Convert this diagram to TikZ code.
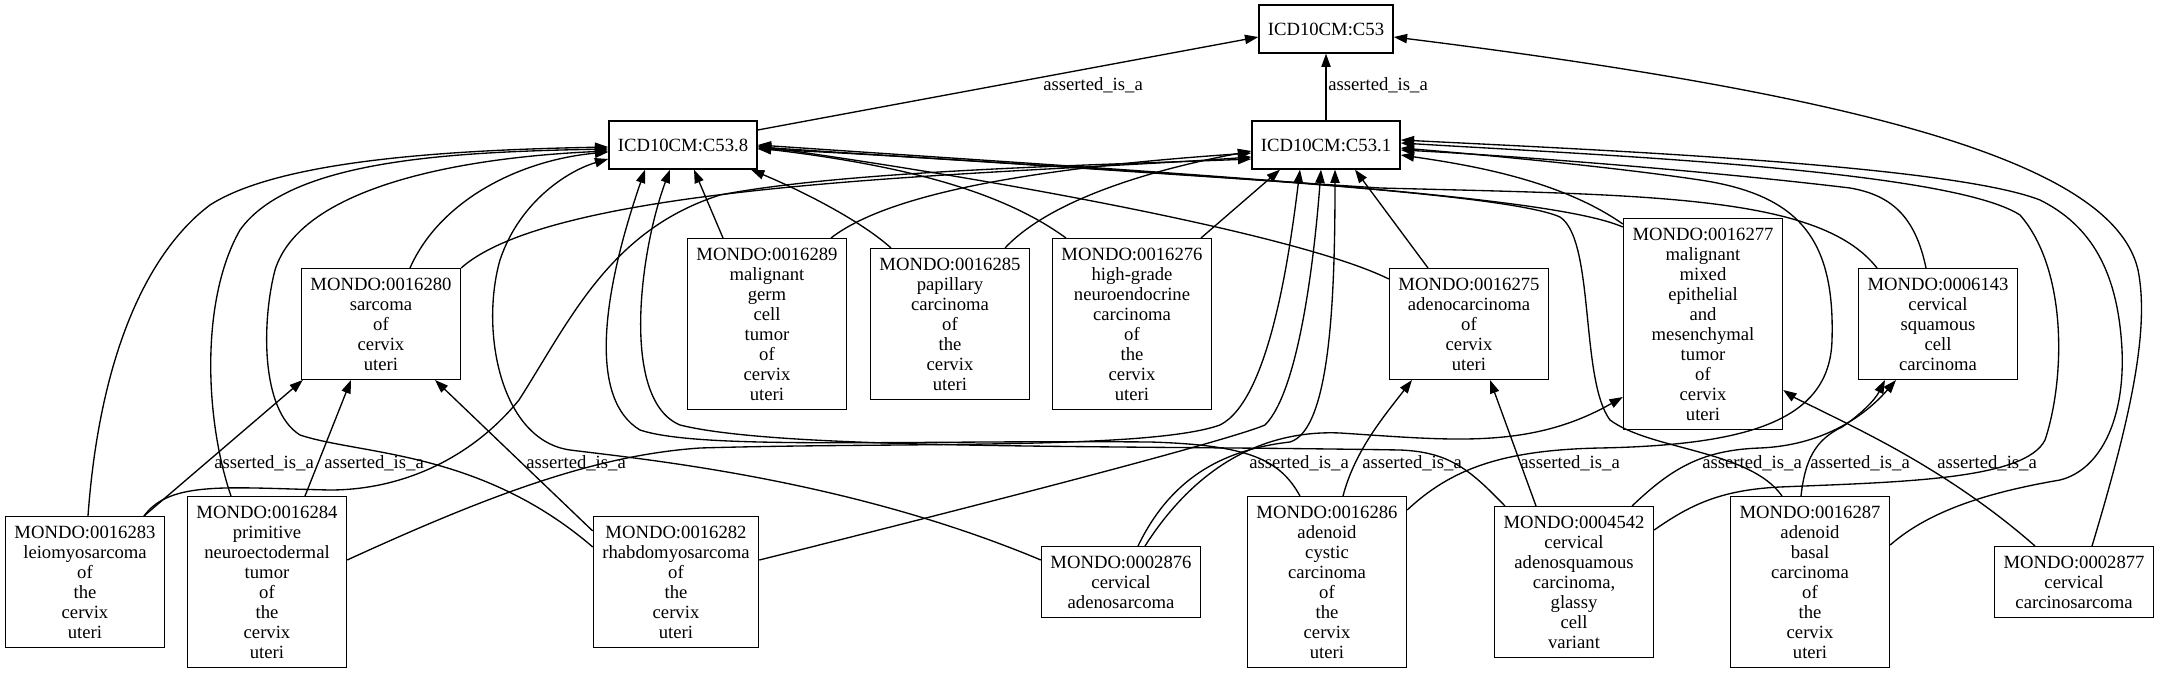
\documentclass[tikz,border=0pt]{standalone}
\usepackage{fontspec}
\setmainfont{Liberation Serif}
\usetikzlibrary{arrows.meta,calc}

\begin{document}
\begin{tikzpicture}[x=0.75pt, y=-0.75pt,
        font=\fontsize{14pt}{15pt}\selectfont,
        box/.style={draw, line width=1pt, align=center, inner xsep=6.75pt, inner ysep=2pt, minimum height=36pt},
        nlines/.style={minimum height=#1*15pt+8pt},
        rel/.style={line width=1pt, -{Triangle[length=10pt,width=7pt]}},
        lbl/.style={anchor=west, inner sep=0pt}]
    \useasboundingbox (0,0) rectangle (2159,673);

    \node[box] (c53) at (1326,29) {ICD10CM:C53};
    \node[box] (c538) at (683,145) {ICD10CM:C53.8};
    \node[box] (c531) at (1326,145) {ICD10CM:C53.1};

    \node[box, nlines=5] (m280) at (381,324) {MONDO:0016280\\sarcoma\\of\\cervix\\uteri};
    \node[box, nlines=8] (m289) at (767,324) {MONDO:0016289\\malignant\\germ\\cell\\tumor\\of\\cervix\\uteri};
    \node[box, nlines=7] (m285) at (950,324) {MONDO:0016285\\papillary\\carcinoma\\of\\the\\cervix\\uteri};
    \node[box, nlines=8] (m276) at (1132,324) {MONDO:0016276\\high-grade\\neuroendocrine\\carcinoma\\of\\the\\cervix\\uteri};
    \node[box, nlines=5] (m275) at (1469,324) {MONDO:0016275\\adenocarcinoma\\of\\cervix\\uteri};
    \node[box, nlines=10] (m277) at (1703,324) {MONDO:0016277\\malignant\\mixed\\epithelial\\and\\mesenchymal\\tumor\\of\\cervix\\uteri};
    \node[box, nlines=5] (m143) at (1938,324) {MONDO:0006143\\cervical\\squamous\\cell\\carcinoma};

    \node[box, nlines=6] (m283) at (85,582) {MONDO:0016283\\leiomyosarcoma\\of\\the\\cervix\\uteri};
    \node[box, nlines=8] (m284) at (267,582) {MONDO:0016284\\primitive\\neuroectodermal\\tumor\\of\\the\\cervix\\uteri};
    \node[box, nlines=6] (m282) at (676,582) {MONDO:0016282\\rhabdomyosarcoma\\of\\the\\cervix\\uteri};
    \node[box, nlines=3] (m876) at (1121,582) {MONDO:0002876\\cervical\\adenosarcoma};
    \node[box, nlines=8] (m286) at (1327,582) {MONDO:0016286\\adenoid\\cystic\\carcinoma\\of\\the\\cervix\\uteri};
    \node[box, nlines=7] (m542) at (1574,582) {MONDO:0004542\\cervical\\adenosquamous\\carcinoma,\\glassy\\cell\\variant};
    \node[box, nlines=8] (m287) at (1810,582) {MONDO:0016287\\adenoid\\basal\\carcinoma\\of\\the\\cervix\\uteri};
    \node[box, nlines=3] (m877) at (2074,582) {MONDO:0002877\\cervical\\carcinosarcoma};

    \foreach \n/\x in {1/214, 2/324, 3/526, 4/1249, 5/1362, 6/1520, 7/1702, 8/1810, 9/1937}
        \node[lbl] (lbl\n) at (\x,463) {asserted\_is\_a};
    \node[lbl] (lbltop1) at (1043,85) {asserted\_is\_a};
    \node[lbl] (lbltop2) at (1328,85) {asserted\_is\_a};

    \draw[rel] ($(c538.east)+(0,-15)$) -- ($(c53.west)+(0,8)$);
    \draw[rel] (c531.north) -- (c53.south);
    \draw[rel] ($(m877.north)+(18,0)$) .. controls (2130,420) and (2150,330) .. (2138,270) .. controls (2115,170) and (1900,100) .. ($(c53.east)+(0,8)$);

    \draw[rel] ($(m280.north)+(29,0)$) .. controls (440,200) and (520,160) .. ($(c538.west)+(0,7)$);
    \draw[rel] (m280.north east) .. controls (560,180) and (1000,175) .. ($(c531.west)+(0,12)$);
    \draw[rel] ($(m289.north)+(-44,0)$) -- ($(c538.south)+(11,0)$);
    \draw[rel] ($(m289.north)+(64,0)$) .. controls (880,200) and (1000,170) .. ($(c531.west)+(0,8)$);
    \draw[rel] ($(m285.north)+(-59,0)$) .. controls (860,220) and (800,190) .. ($(c538.south)+(68,0)$);
    \draw[rel] ($(m285.north)+(55,0)$) .. controls (1050,200) and (1150,170) .. ($(c531.west)+(0,6)$);
    \draw[rel] ($(m276.north)+(-66,0)$) .. controls (1000,190) and (900,165) .. ($(c538.east)+(0,3)$);
    \draw[rel] ($(m276.north)+(69,0)$) -- ($(c531.south)+(-46,0)$);
    \draw[rel] ($(m275.north west)+(0,11)$) .. controls (1300,235) and (1000,180) .. ($(c538.east)+(0,1)$);
    \draw[rel] ($(m275.north)+(-41,0)$) -- ($(c531.south)+(29,0)$);
    \draw[rel] ($(m277.north west)+(0,9)$) .. controls (1550,195) and (1200,175) .. (c538.east);
    \draw[rel] ($(m277.north west)+(0,6)$) .. controls (1560,180) and (1470,165) .. ($(c531.east)+(0,10)$);
    \draw[rel] ($(m143.north)+(-61,0)$) .. controls (1820,195) and (1650,195) .. (1380,188) .. controls (1100,170) and (900,155) .. ($(c538.east)+(0,4)$);
    \draw[rel] ($(m143.north)+(-12,0)$) .. controls (1915,215) and (1890,195) .. (1850,188) .. controls (1700,170) and (1500,155) .. ($(c531.east)+(0,5)$);

    \draw[rel] ($(m283.north)+(3,0)$) .. controls (100,350) and (150,250) .. (210,205) .. controls (280,160) and (450,150) .. ($(c538.west)+(0,2)$);
    \draw[rel] ($(m283.north)+(59,0)$) .. controls (170,480) and (230,488) .. (330,490) .. controls (400,490) and (470,460) .. (519,400) .. controls (570,320) and (610,230) .. (720,195) .. controls (850,170) and (1100,165) .. ($(c531.west)+(0,14)$);
    \draw[rel] ($(m283.north)+(59,0)$) -- ($(m280.south west)+(2,0)$);
    \draw[rel] ($(m284.north)+(-36,0)$) .. controls (205,420) and (200,300) .. (240,230) .. controls (290,160) and (450,152) .. ($(c538.west)+(0,4)$);
    \draw[rel] ($(m284.east)+(0,-22)$) .. controls (500,490) and (600,455) .. (700,448) .. controls (900,442) and (1150,450) .. (1220,425) .. controls (1270,400) and (1290,250) .. ($(c531.south)+(-26,0)$);
    \draw[rel] ($(m284.north)+(38,0)$) -- ($(m280.south)+(-30,0)$);
    \draw[rel] ($(m282.west)+(0,-35)$) .. controls (480,450) and (360,455) .. (300,435) .. controls (260,410) and (262,320) .. (275,270) .. controls (300,190) and (450,158) .. ($(c538.west)+(0,6)$);
    \draw[rel] ($(m282.east)+(0,-22)$) .. controls (1000,500) and (1230,440) .. (1265,425) .. controls (1300,390) and (1315,250) .. ($(c531.south)+(-5,0)$);
    \draw[rel] ($(m282.north west)+(0,15)$) -- ($(m280.south)+(54,0)$);
    \draw[rel] ($(m876.west)+(0,-22)$) .. controls (850,480) and (650,460) .. (570,450) .. controls (500,440) and (480,330) .. (500,260) .. controls (520,200) and (570,170) .. ($(c538.west)+(0,14)$);
    \draw[rel] ($(m876.north)+(17,0)$) .. controls (1170,480) and (1220,450) .. (1290,442) .. controls (1330,430) and (1335,300) .. ($(c531.south)+(9,0)$);
    \draw[rel] ($(m876.north)+(24,0)$) .. controls (1200,460) and (1270,430) .. (1340,433) .. controls (1450,440) and (1530,450) .. ($(m277.west)+(0,73)$);
    \draw[rel] ($(m286.north)+(-27,0)$) .. controls (1280,460) and (1250,445) .. (1150,442) .. controls (900,440) and (700,450) .. (640,430) .. controls (590,400) and (600,300) .. ($(c538.south)+(-38,0)$);
    \draw[rel] ($(m286.east)+(0,-72)$) .. controls (1450,470) and (1500,450) .. (1600,448) .. controls (1750,445) and (1830,420) .. (1832,340) .. controls (1835,240) and (1800,195) .. (1700,180) .. controls (1600,165) and (1450,152) .. ($(c531.east)+(0,3)$);
    \draw[rel] ($(m286.north)+(16,0)$) .. controls (1355,450) and (1385,415) .. ($(m275.south)+(-57,0)$);
    \draw[rel] ($(m542.north)+(-69,0)$) .. controls (1470,470) and (1450,452) .. (1400,450) .. controls (1100,445) and (780,450) .. (680,425) .. controls (620,400) and (640,250) .. ($(c538.south)+(-13,0)$);
    \draw[rel] ($(m542.east)+(0,-52)$) .. controls (1690,505) and (1720,490) .. (1780,487) .. controls (1900,482) and (2025,480) .. (2045,440) .. controls (2065,380) and (2068,270) .. (2020,215) .. controls (1950,170) and (1600,155) .. ($(c531.east)+(0,-2)$);
    \draw[rel] ($(m542.north)+(-38,0)$) -- ($(m275.south)+(21,0)$);
    \draw[rel] ($(m542.north)+(58,0)$) .. controls (1670,470) and (1700,450) .. (1760,448) .. controls (1830,445) and (1870,410) .. ($(m143.south)+(-42,0)$);
    \draw[rel] ($(m287.north)+(-28,0)$) .. controls (1750,450) and (1650,450) .. (1610,420) .. controls (1580,380) and (1595,240) .. (1560,217) .. controls (1500,190) and (1100,170) .. ($(c538.east)+(0,2)$);
    \draw[rel] ($(m287.east)+(0,-37)$) .. controls (1930,510) and (1990,492) .. (2060,480) .. controls (2100,470) and (2125,420) .. (2122,350) .. controls (2118,270) and (2090,225) .. (2040,200) .. controls (1950,165) and (1600,150) .. ($(c531.east)+(0,-5)$);
    \draw[rel] ($(m287.north)+(-9,0)$) .. controls (1805,460) and (1815,440) .. (1842,427) .. controls (1860,415) and (1875,400) .. ($(m143.south)+(-53,0)$);
    \draw[rel] ($(m877.north)+(-39,0)$) .. controls (1960,480) and (1880,440) .. (1840,420) .. controls (1810,405) and (1795,398) .. ($(m277.east)+(0,66)$);
\end{tikzpicture}
\end{document}
